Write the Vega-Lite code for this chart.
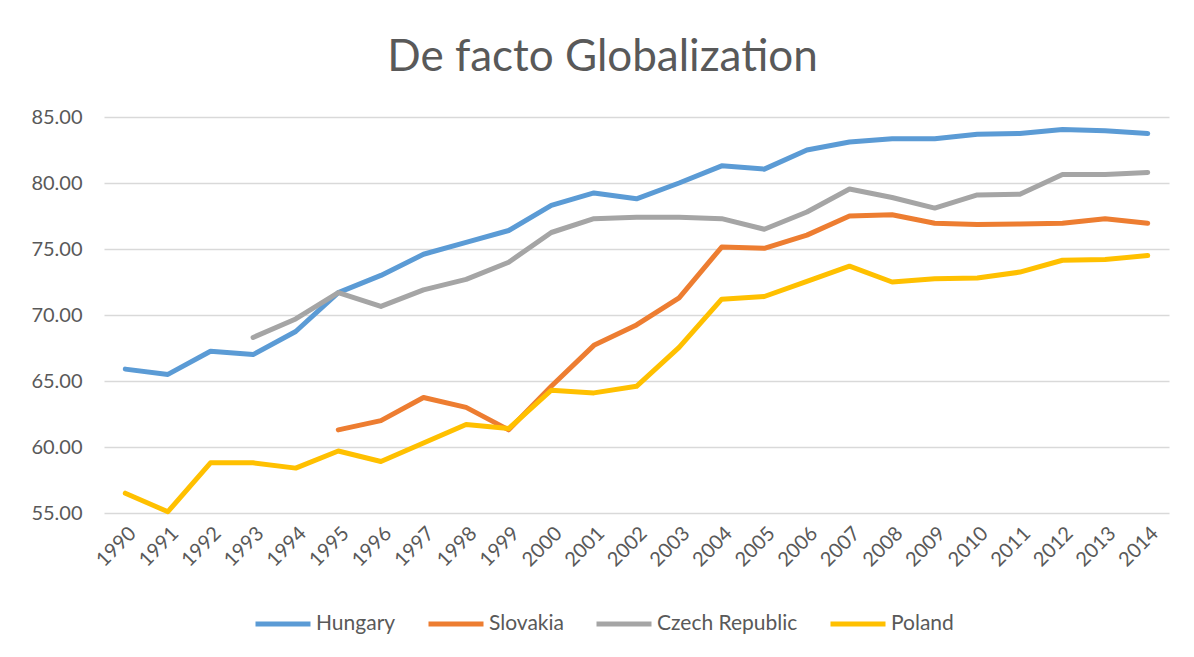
{
  "$schema": "https://vega.github.io/schema/vega-lite/v6.json",
  "width": 1065,
  "height": 396,
  "autosize": "none",
  "padding": {"left": 104, "top": 117, "right": 25, "bottom": 144},
  "background": "white",
  "title": {"text": "De facto Globalization", "fontSize": 44, "font": "Lato", "fontWeight": "normal", "color": "#595959", "anchor": "middle", "offset": 27, "dx": -34},
  "config": {
    "view": {"stroke": null},
    "font": "Lato"
  },
  "data": {"values": [
    {"year": "1990", "country": "Hungary", "value": 65.9},
    {"year": "1991", "country": "Hungary", "value": 65.5},
    {"year": "1992", "country": "Hungary", "value": 67.25},
    {"year": "1993", "country": "Hungary", "value": 67.0},
    {"year": "1994", "country": "Hungary", "value": 68.75},
    {"year": "1995", "country": "Hungary", "value": 71.7},
    {"year": "1996", "country": "Hungary", "value": 73.0},
    {"year": "1997", "country": "Hungary", "value": 74.6},
    {"year": "1998", "country": "Hungary", "value": 75.5},
    {"year": "1999", "country": "Hungary", "value": 76.4},
    {"year": "2000", "country": "Hungary", "value": 78.3},
    {"year": "2001", "country": "Hungary", "value": 79.25},
    {"year": "2002", "country": "Hungary", "value": 78.8},
    {"year": "2003", "country": "Hungary", "value": 80.0},
    {"year": "2004", "country": "Hungary", "value": 81.3},
    {"year": "2005", "country": "Hungary", "value": 81.05},
    {"year": "2006", "country": "Hungary", "value": 82.5},
    {"year": "2007", "country": "Hungary", "value": 83.1},
    {"year": "2008", "country": "Hungary", "value": 83.35},
    {"year": "2009", "country": "Hungary", "value": 83.35},
    {"year": "2010", "country": "Hungary", "value": 83.7},
    {"year": "2011", "country": "Hungary", "value": 83.75},
    {"year": "2012", "country": "Hungary", "value": 84.05},
    {"year": "2013", "country": "Hungary", "value": 83.95},
    {"year": "2014", "country": "Hungary", "value": 83.75},
    {"year": "1995", "country": "Slovakia", "value": 61.3},
    {"year": "1996", "country": "Slovakia", "value": 62.0},
    {"year": "1997", "country": "Slovakia", "value": 63.75},
    {"year": "1998", "country": "Slovakia", "value": 63.0},
    {"year": "1999", "country": "Slovakia", "value": 61.3},
    {"year": "2000", "country": "Slovakia", "value": 64.6},
    {"year": "2001", "country": "Slovakia", "value": 67.7},
    {"year": "2002", "country": "Slovakia", "value": 69.25},
    {"year": "2003", "country": "Slovakia", "value": 71.3},
    {"year": "2004", "country": "Slovakia", "value": 75.15},
    {"year": "2005", "country": "Slovakia", "value": 75.05},
    {"year": "2006", "country": "Slovakia", "value": 76.05},
    {"year": "2007", "country": "Slovakia", "value": 77.5},
    {"year": "2008", "country": "Slovakia", "value": 77.6},
    {"year": "2009", "country": "Slovakia", "value": 76.95},
    {"year": "2010", "country": "Slovakia", "value": 76.85},
    {"year": "2011", "country": "Slovakia", "value": 76.9},
    {"year": "2012", "country": "Slovakia", "value": 76.95},
    {"year": "2013", "country": "Slovakia", "value": 77.3},
    {"year": "2014", "country": "Slovakia", "value": 76.95},
    {"year": "1993", "country": "Czech Republic", "value": 68.3},
    {"year": "1994", "country": "Czech Republic", "value": 69.7},
    {"year": "1995", "country": "Czech Republic", "value": 71.7},
    {"year": "1996", "country": "Czech Republic", "value": 70.65},
    {"year": "1997", "country": "Czech Republic", "value": 71.9},
    {"year": "1998", "country": "Czech Republic", "value": 72.7},
    {"year": "1999", "country": "Czech Republic", "value": 74.0},
    {"year": "2000", "country": "Czech Republic", "value": 76.25},
    {"year": "2001", "country": "Czech Republic", "value": 77.3},
    {"year": "2002", "country": "Czech Republic", "value": 77.4},
    {"year": "2003", "country": "Czech Republic", "value": 77.4},
    {"year": "2004", "country": "Czech Republic", "value": 77.3},
    {"year": "2005", "country": "Czech Republic", "value": 76.5},
    {"year": "2006", "country": "Czech Republic", "value": 77.8},
    {"year": "2007", "country": "Czech Republic", "value": 79.55},
    {"year": "2008", "country": "Czech Republic", "value": 78.9},
    {"year": "2009", "country": "Czech Republic", "value": 78.1},
    {"year": "2010", "country": "Czech Republic", "value": 79.1},
    {"year": "2011", "country": "Czech Republic", "value": 79.15},
    {"year": "2012", "country": "Czech Republic", "value": 80.65},
    {"year": "2013", "country": "Czech Republic", "value": 80.65},
    {"year": "2014", "country": "Czech Republic", "value": 80.8},
    {"year": "1990", "country": "Poland", "value": 56.5},
    {"year": "1991", "country": "Poland", "value": 55.1},
    {"year": "1992", "country": "Poland", "value": 58.8},
    {"year": "1993", "country": "Poland", "value": 58.8},
    {"year": "1994", "country": "Poland", "value": 58.4},
    {"year": "1995", "country": "Poland", "value": 59.7},
    {"year": "1996", "country": "Poland", "value": 58.9},
    {"year": "1997", "country": "Poland", "value": 60.3},
    {"year": "1998", "country": "Poland", "value": 61.7},
    {"year": "1999", "country": "Poland", "value": 61.4},
    {"year": "2000", "country": "Poland", "value": 64.3},
    {"year": "2001", "country": "Poland", "value": 64.1},
    {"year": "2002", "country": "Poland", "value": 64.6},
    {"year": "2003", "country": "Poland", "value": 67.55},
    {"year": "2004", "country": "Poland", "value": 71.2},
    {"year": "2005", "country": "Poland", "value": 71.4},
    {"year": "2006", "country": "Poland", "value": 72.55},
    {"year": "2007", "country": "Poland", "value": 73.7},
    {"year": "2008", "country": "Poland", "value": 72.5},
    {"year": "2009", "country": "Poland", "value": 72.75},
    {"year": "2010", "country": "Poland", "value": 72.8},
    {"year": "2011", "country": "Poland", "value": 73.25},
    {"year": "2012", "country": "Poland", "value": 74.15},
    {"year": "2013", "country": "Poland", "value": 74.2},
    {"year": "2014", "country": "Poland", "value": 74.5}
  ]},
  "mark": {"type": "line", "strokeWidth": 5, "strokeCap": "round", "strokeJoin": "round"},
  "encoding": {
    "x": {
      "field": "year", "type": "ordinal",
      "scale": {"type": "point", "padding": 0.5},
      "axis": {"title": null, "labelAngle": -45, "labelFontSize": 20, "labelColor": "#595959", "ticks": false, "domain": false, "grid": false, "labelPadding": 10}
    },
    "y": {
      "field": "value", "type": "quantitative",
      "scale": {"domain": [55, 85], "nice": false, "zero": false},
      "axis": {"title": null, "values": [55, 60, 65, 70, 75, 80, 85], "format": ".2f", "labelFontSize": 20, "labelColor": "#595959", "ticks": false, "domain": false, "gridColor": "#D9D9D9", "gridWidth": 1.5, "labelPadding": 22}
    },
    "color": {
      "field": "country", "type": "nominal",
      "scale": {"domain": ["Hungary", "Slovakia", "Czech Republic", "Poland"], "range": ["#5B9BD5", "#ED7D31", "#A5A5A5", "#FFC000"]},
      "legend": {"title": null, "orient": "none", "legendX": 149, "legendY": 477, "direction": "horizontal", "symbolType": "stroke", "symbolSize": 3025, "symbolStrokeWidth": 5, "labelFontSize": 21, "labelColor": "#595959", "columnPadding": 22, "labelOffset": 3}
    }
  }
}
